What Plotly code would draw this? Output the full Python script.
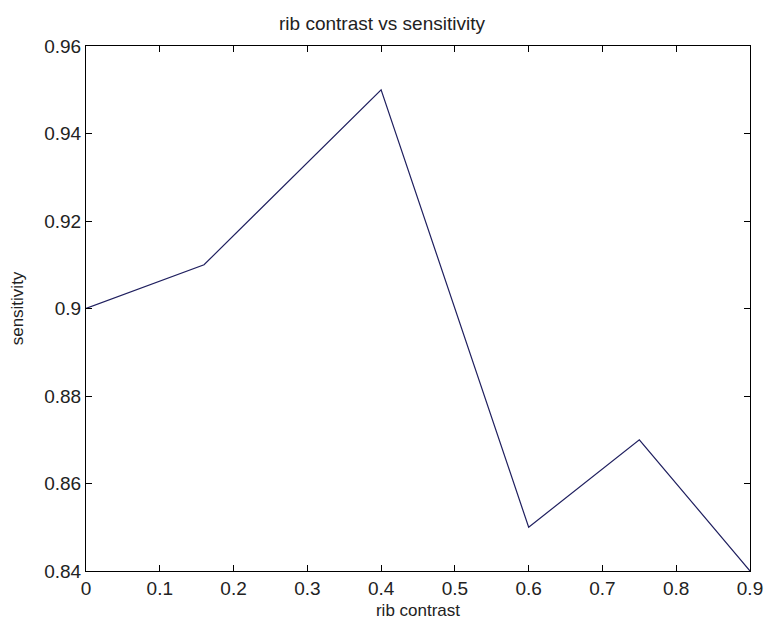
import plotly.graph_objects as go

rib_contrast = [0.0, 0.16, 0.4, 0.6, 0.75, 0.9]
sensitivity = [0.90, 0.91, 0.95, 0.85, 0.87, 0.84]

x_ticks = [0, 0.1, 0.2, 0.3, 0.4, 0.5, 0.6, 0.7, 0.8, 0.9]
x_labels = ["0", "0.1", "0.2", "0.3", "0.4", "0.5", "0.6", "0.7", "0.8", "0.9"]
y_ticks = [0.84, 0.86, 0.88, 0.90, 0.92, 0.94, 0.96]
y_labels = ["0.84", "0.86", "0.88", "0.9", "0.92", "0.94", "0.96"]

fig = go.Figure()
fig.add_trace(go.Scatter(x=rib_contrast, y=sensitivity, mode="lines",
                         line=dict(color="#1f1f5f", width=1.2), showlegend=False))

axis_common = dict(showgrid=False, zeroline=False, showline=True, linecolor="black",
                   linewidth=1, mirror="ticks", ticks="inside", ticklen=6,
                   tickcolor="black", tickfont=dict(size=19, color="#222"),
                   automargin=False)

fig.update_layout(
    width=764, height=624,
    margin=dict(l=86, r=14, t=46, b=53),
    paper_bgcolor="white", plot_bgcolor="white",
    font=dict(family="Liberation Sans, Arial, sans-serif", color="#222"),
    title=dict(text="rib contrast vs sensitivity", x=0.5, xanchor="center",
               y=0.963, yanchor="middle", font=dict(size=19)),
    xaxis=dict(range=[0, 0.9], tickvals=x_ticks, ticktext=x_labels,
               title=dict(text="rib contrast", font=dict(size=17), standoff=6), **axis_common),
    yaxis=dict(range=[0.84, 0.96], tickvals=y_ticks, ticktext=y_labels,
               title=dict(text="sensitivity", font=dict(size=17), standoff=16), **axis_common),
)

fig.write_html("out.html")
